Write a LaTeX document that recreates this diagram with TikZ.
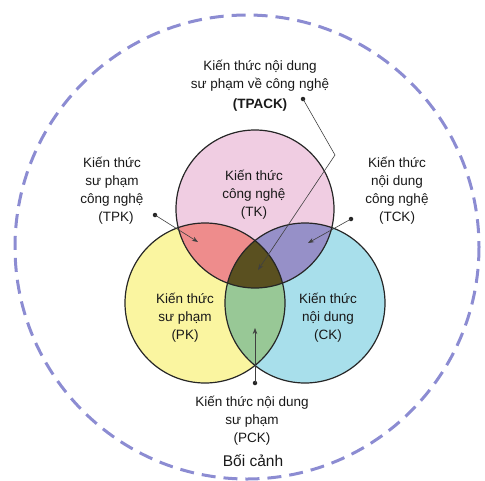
\documentclass[tikz,border=0pt]{standalone}
\usepackage{fontspec}
\setmainfont{Liberation Sans}
\usetikzlibrary{arrows.meta}
\definecolor{tkpink}{HTML}{F0CDE2}
\definecolor{pkyellow}{HTML}{FAF5A0}
\definecolor{ckblue}{HTML}{A8DFEB}
\definecolor{tpkred}{HTML}{EE8C8C}
\definecolor{tckpurple}{HTML}{9690C8}
\definecolor{pckgreen}{HTML}{98C896}
\definecolor{tpackdark}{HTML}{5A5020}
\definecolor{ctxline}{HTML}{8C8CD2}
\tikzset{
  lbl/.style={align=center, font=\fontsize{13.5}{18}\selectfont, text=black!90, inner sep=0pt},
  ring/.style={line width=1.2pt, draw=black!85},
  leader/.style={line width=0.6pt, draw=black!75, -{Stealth[length=6pt,width=4.5pt]}},
  dot/.style={circle, fill=black!85, inner sep=0pt, minimum size=4.5pt},
}

\begin{document}
\begin{tikzpicture}[x=1pt,y=-1pt]
			%%%%% START %%%%%
			\useasboundingbox (0,0) rectangle (485,480);
			
			\draw[color=ctxline, line width=3pt, dash pattern=on 14pt off 8pt] (247,247) circle (232);
			
			\coordinate (T) at (255,209);
			\coordinate (P) at (205,303);
			\coordinate (C) at (305,303);
			
			\fill[tkpink] (T) circle (79);
			\fill[pkyellow] (P) circle (80);
			\fill[ckblue] (C) circle (80);
			
			\begin{scope}
				\clip (T) circle (79);
				\fill[tpkred] (P) circle (80);
				\fill[tckpurple] (C) circle (80);
			\end{scope}
			\begin{scope}
				\clip (P) circle (80);
				\fill[pckgreen] (C) circle (80);
			\end{scope}
			\begin{scope}
				\clip (T) circle (79);
				\clip (P) circle (80);
				\fill[tpackdark] (C) circle (80);
			\end{scope}
			
			\draw[ring] (T) circle (79);
			\draw[ring] (P) circle (80);
			\draw[ring] (C) circle (80);
			
			\node[lbl] (tk) at (254,195) {Kiến thức\\công nghệ\\(TK)};
			\node[lbl] (pk) at (185,318) {Kiến thức\\sư phạm\\(PK)};
			\node[lbl] (ck) at (328,318) {Kiến thức\\nội dung\\(CK)};
			
			\node[lbl] (tpack) at (260,76) {Kiến thức nội dung\\sư phạm về công nghệ};
			\node[lbl, font=\bfseries\fontsize{13.5}{18}\selectfont] (tpackabbr) at (260,105) {(TPACK)};
			\node[lbl] (tpk) at (112,191) {Kiến thức\\sư phạm\\công nghệ\\\hspace*{8pt}(TPK)};
			\node[lbl] (tck) at (397,191) {Kiến thức\\nội dung\\công nghệ\\(TCK)};
			\node[lbl] (pck) at (252,421) {Kiến thức nội dung\\sư phạm\\(PCK)};
			\node[lbl, font=\fontsize{15.5}{18}\selectfont] (ctx) at (253,461) {Bối cảnh};
			
			\node[dot] (tpackdot) at (303,99) {};
			\coordinate (tpackbend) at (335,155);
			\coordinate (tpacktip) at (258,270);
			\draw[leader] (tpackdot.center) -- (tpackbend) -- (tpacktip);
			
			\node[dot] (tpkdot) at (155,215) {};
			\coordinate (tpktip) at (198,242);
			\draw[leader] (tpkdot.center) -- (tpktip);
			
			\node[dot] (tckdot) at (351,219) {};
			\coordinate (tcktip) at (308,243);
			\draw[leader] (tckdot.center) -- (tcktip);
			
			\node[dot] (pckdot) at (255,383) {};
			\coordinate (pcktip) at (255,328);
			\draw[leader] (pckdot.center) -- (pcktip);
			
			%%%%% END %%%%%
\end{tikzpicture}
\end{document}
